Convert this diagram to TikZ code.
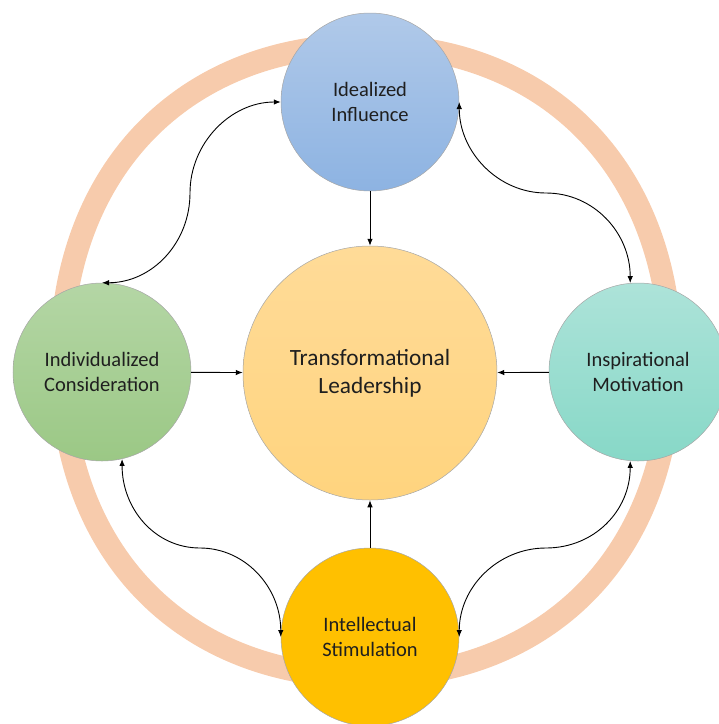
\documentclass[tikz,border=0pt]{standalone}
\usepackage{fontspec}
\setmainfont{Carlito}
\usetikzlibrary{arrows.meta}
\definecolor{ringc}{HTML}{F7CBAC}
\definecolor{blueT}{HTML}{B0C9E9}
\definecolor{blueB}{HTML}{8DB3E2}
\definecolor{greenT}{HTML}{B4D6A5}
\definecolor{greenB}{HTML}{9BC885}
\definecolor{tealT}{HTML}{ADE3D9}
\definecolor{tealB}{HTML}{87D8C7}
\definecolor{coreT}{HTML}{FFDB98}
\definecolor{coreB}{HTML}{FFD47E}
\definecolor{gold}{HTML}{FFC000}
\definecolor{txt}{HTML}{1F1F1F}
\begin{document}
\begin{tikzpicture}[x=1pt,y=-1pt,
  bubble/.style={circle,minimum size=178pt,inner sep=0pt,align=center,
    draw=black!35,line width=0.5pt,text=txt,
    font=\fontsize{20.5}{25}\selectfont},
  core/.style={bubble,minimum size=254pt,font=\fontsize{23.3}{28}\selectfont},
  link/.style={line width=0.9pt,-{Latex[length=7pt,width=5.5pt]}},
  twoway/.style={line width=0.9pt,{Latex[length=7pt,width=5.5pt]}-{Latex[length=7pt,width=5.5pt]}},
  ring/.style={draw=ringc,line width=23pt}]
\useasboundingbox (0,0) rectangle (719,724);
\draw[ring] (671,362) .. controls (671,171.2) and (549,45) .. (366,45)
  .. controls (183,45) and (61,171.2) .. (61,362)
  .. controls (61,552.8) and (183,677) .. (366,677)
  .. controls (549,677) and (671,552.8) .. (671,362) -- cycle;
\node[core,top color=coreT,bottom color=coreB] (tl) at (370,373) {Transformational\\Leadership};
\node[bubble,top color=blueT,bottom color=blueB] (ii) at (370,102) {Idealized\\Influence};
\node[bubble,top color=greenT,bottom color=greenB] (ic) at (102,372) {Individualized\\Consideration};
\node[bubble,top color=tealT,bottom color=tealB] (im) at (638,372) {Inspirational\\Motivation};
\node[bubble,fill=gold] (is) at (370,637) {Intellectual\\Stimulation};
\coordinate (m1) at (190,193);
\coordinate (m2) at (546,193);
\coordinate (m3) at (200,548);
\coordinate (m4) at (546,548);
\draw[link] (ii) -- (tl);
\draw[link] (ic) -- (tl);
\draw[link] (im) -- (tl);
\draw[link] (is) -- (tl);
\draw[twoway] (ic.90) .. controls +(50,0) and +(0,50) .. (m1)
  .. controls +(0,-50) and +(-50,0) .. (ii.180);
\draw[twoway] (ii.0) .. controls +(0,50) and +(-48,0) .. (m2)
  .. controls +(48,0) and +(0,-50) .. (im.95);
\draw[twoway] (ic.283) .. controls +(0,50) and +(-45,0) .. (m3)
  .. controls +(45,0) and +(0,-50) .. (is.180);
\draw[twoway] (im.265) .. controls +(0,50) and +(48,0) .. (m4)
  .. controls +(-48,0) and +(0,-50) .. (is.0);
\end{tikzpicture}
\end{document}
